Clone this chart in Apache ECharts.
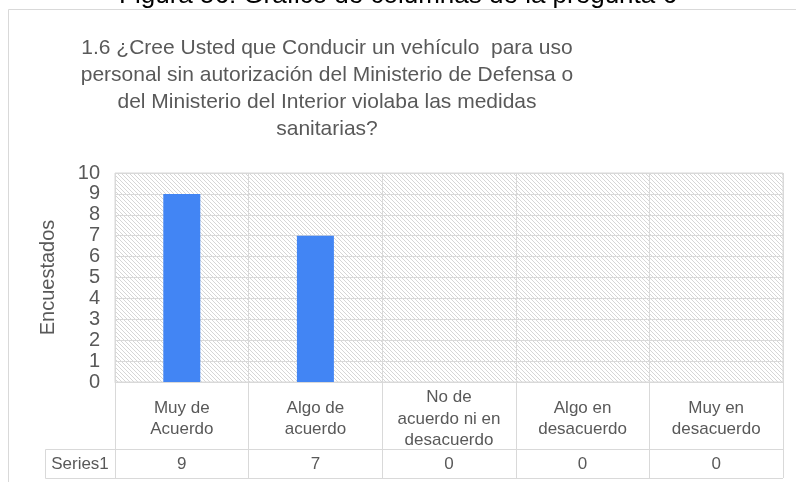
<!DOCTYPE html>
<html>
<head>
<meta charset="utf-8">
<script src="https://cdn.jsdelivr.net/npm/echarts@6/dist/echarts.min.js"></script>
<style>html,body{margin:0;padding:0;background:#fff}#chart{width:796px;height:482px}</style>
</head>
<body>
<div id="chart"></div>
<script>
const captionText = 'Figura 56: Gráfico de columnas de la pregunta 6';
const titleText = '1.6 ¿Cree Usted que Conducir un vehículo  para uso\npersonal sin autorización del Ministerio de Defensa o\ndel Ministerio del Interior violaba las medidas\nsanitarias?';
const categories = ['Muy de\nAcuerdo', 'Algo de\nacuerdo', 'No de\nacuerdo ni en\ndesacuerdo', 'Algo en\ndesacuerdo', 'Muy en\ndesacuerdo'];
const seriesName = 'Series1';
const seriesValues = [9, 7, 0, 0, 0];
const yAxisName = 'Encuestados';
const yMin = 0, yMax = 10, yInterval = 1;

const FONT = "'Liberation Sans', Arial, sans-serif";
const GRID_C = '#d9d9d9';
const TXT = '#595959';

// hatch pattern
const pat = document.createElement('canvas');
pat.width = 8; pat.height = 8;
const pc = pat.getContext('2d');
pc.fillStyle = '#ffffff'; pc.fillRect(0, 0, 8, 8);
pc.strokeStyle = '#d6d6d6'; pc.lineWidth = 1;
for (let k = -8; k <= 8; k += 4) {
  pc.beginPath(); pc.moveTo(k, 0); pc.lineTo(k + 8, 8); pc.stroke();
}

const chart = echarts.init(document.getElementById('chart'), null, {renderer: 'canvas'});
chart.setOption({
  animation: false,
  backgroundColor: '#ffffff',
  textStyle: {fontFamily: FONT},
  title: {
    text: titleText,
    left: 327, top: 35, textAlign: 'center', padding: 0,
    textStyle: {fontFamily: FONT, fontSize: 21, lineHeight: 27, fontWeight: 'normal', color: TXT}
  },
  grid: {
    left: 115, top: 173, right: 13, bottom: 100,
    show: true, backgroundColor: {image: pat, repeat: 'repeat'},
    borderColor: GRID_C, borderWidth: 1
  },
  xAxis: [{
    type: 'category', data: categories, position: 'bottom',
    axisLine: {show: true, lineStyle: {color: GRID_C, width: 1}},
    axisTick: {show: true, length: 96, lineStyle: {color: GRID_C}},
    splitLine: {show: true, lineStyle: {color: GRID_C, width: 1}},
    axisLabel: {interval: 0, fontSize: 17, lineHeight: 21.5, color: TXT, margin: 37, verticalAlign: 'middle', fontFamily: FONT}
  }, {
    type: 'category', data: seriesValues.map(String), position: 'bottom', offset: 67,
    axisLine: {show: true, lineStyle: {color: GRID_C, width: 1}},
    axisTick: {show: false},
    splitLine: {show: false},
    axisLabel: {interval: 0, fontSize: 17, color: TXT, margin: 15, verticalAlign: 'middle', fontFamily: FONT}
  }],
  yAxis: {
    type: 'value', min: yMin, max: yMax, interval: yInterval,
    name: yAxisName, nameLocation: 'middle', nameRotate: 90, nameGap: 57,
    nameTextStyle: {fontSize: 20, color: TXT, fontFamily: FONT},
    axisLine: {show: false}, axisTick: {show: false},
    splitLine: {show: true, lineStyle: {color: GRID_C, width: 1}},
    axisLabel: {fontSize: 20, color: TXT, margin: 15, fontFamily: FONT}
  },
  series: [{
    name: seriesName, type: 'bar', data: seriesValues, xAxisIndex: 0,
    barWidth: 37, itemStyle: {color: '#4285F4'}
  }],
  graphic: [
    {type: 'rect', shape: {x: 8.5, y: 9.5, width: 800, height: 480}, style: {fill: 'none', stroke: GRID_C, lineWidth: 1}, z: 0, silent: true},
    {type: 'text', x: 398, y: -4, style: {text: captionText, fontSize: 26, fontFamily: FONT, fill: '#000', align: 'center', verticalAlign: 'middle'}, z: 10},
    {type: 'rect', shape: {x: 45.5, y: 449.5, width: 70, height: 29}, style: {fill: 'none', stroke: GRID_C, lineWidth: 1}, z: 10},
    {type: 'line', shape: {x1: 115, y1: 478.5, x2: 783, y2: 478.5}, style: {stroke: GRID_C, lineWidth: 1}, z: 10},
    {type: 'text', x: 80, y: 464, style: {text: seriesName, fontSize: 17, fontFamily: FONT, fill: TXT, align: 'center', verticalAlign: 'middle'}, z: 10}
  ]
});
</script>
</body>
</html>
